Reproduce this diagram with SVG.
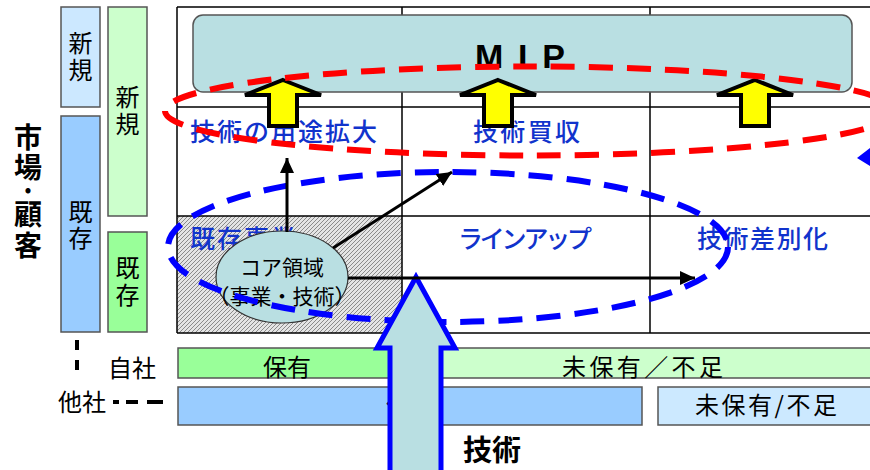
<svg xmlns="http://www.w3.org/2000/svg" width="870" height="470" viewBox="0 0 870 470">
<style>
.jp{font-family:"Noto Sans CJK JP","Noto Sans",sans-serif;}
.lbl{font-size:24px;fill:#000;}
.blue{font-size:25px;fill:#1133cc;font-weight:500;}
.bar{stroke:#555;stroke-width:1.5;}
.grid{stroke:#000;stroke-width:1.5;fill:none;}
.yarrow{fill:#ffff00;stroke:#000;stroke-width:4;stroke-linejoin:miter;}
.blk{stroke:#000;stroke-width:3;fill:none;marker-end:url(#ah);}
</style>
<defs>
<pattern id="hatch" width="4" height="4" patternUnits="userSpaceOnUse">
<rect width="4" height="4" fill="#e4e4e4"/>
<path d="M-1,1 L1,-1 M0,4 L4,0 M3,5 L5,3" stroke="#8a8a8a" stroke-width="1"/>
</pattern>
<marker id="ah" markerUnits="userSpaceOnUse" markerWidth="16" markerHeight="14" refX="15" refY="7" orient="auto">
<path d="M0,0 L15,7 L0,14 z" fill="#000"/>
</marker>
</defs>
<rect width="870" height="470" fill="#fff"/>

<!-- left axis -->
<g id="axis-market">
<text class="jp" font-weight="bold" font-size="28" text-anchor="middle" fill="#000">
<tspan x="28" y="148">市</tspan><tspan x="28" y="178">場</tspan><tspan x="28" y="201">·</tspan><tspan x="28" y="225">顧</tspan><tspan x="28" y="256">客</tspan>
</text>
</g>
<g id="col1-new"><rect class="bar" x="61" y="7" width="39" height="100" fill="#cce8ff"/>
<text class="jp lbl" text-anchor="middle"><tspan x="80.5" y="52">新</tspan><tspan x="80.5" y="79">規</tspan></text></g>
<g id="col1-exist"><rect class="bar" x="61" y="116" width="39" height="216" fill="#99ccff"/>
<text class="jp lbl" text-anchor="middle"><tspan x="80.5" y="221">既</tspan><tspan x="80.5" y="247">存</tspan></text></g>
<g id="col2-new"><rect class="bar" x="108" y="7" width="39" height="209" fill="#ccffcc"/>
<text class="jp lbl" text-anchor="middle"><tspan x="127.5" y="106">新</tspan><tspan x="127.5" y="133">規</tspan></text></g>
<g id="col2-exist"><rect class="bar" x="108" y="232" width="39" height="100" fill="#99ff99"/>
<text class="jp lbl" text-anchor="middle"><tspan x="127.5" y="277">既</tspan><tspan x="127.5" y="304">存</tspan></text></g>

<!-- grid -->
<g id="grid">
<rect x="177" y="216" width="225" height="117" fill="url(#hatch)"/>
<path class="grid" d="M177,7 H870 M177,107 H870 M177,216 H870 M177,333 H870 M177,7 V333 M402,7 V333 M650,7 V333"/>
</g>

<g id="mip">
<rect x="193" y="15" width="659" height="77" rx="10" fill="#b9dfe2" stroke="#555" stroke-width="1.5"/>
<text x="475" y="68" font-family="Liberation Sans,Arial,sans-serif" font-weight="bold" font-size="34" textLength="90" fill="#000">M I P</text>
</g>

<g id="cell-labels">
<text class="jp blue" x="190" y="141" textLength="187">技術の用途拡大</text>
<text class="jp blue" x="473" y="141" textLength="107">技術買収</text>
<text class="jp blue" x="190" y="248" textLength="106">既存事業</text>
<text class="jp blue" x="458" y="248" textLength="134">ラインアップ</text>
<text class="jp blue" x="697" y="248" textLength="131">技術差別化</text>
</g>

<g id="yellow-arrows">
<path class="yarrow" d="M283,80 L321,95 L297,95 L297,126 L269,126 L269,95 L245,95 Z"/>
<path class="yarrow" d="M498,80 L536,95 L512,95 L512,126 L484,126 L484,95 L460,95 Z"/>
<path class="yarrow" d="M755,80 L793,95 L769,95 L769,126 L741,126 L741,95 L717,95 Z"/>
</g>

<g id="red-ellipse">
<ellipse cx="530" cy="111" rx="365" ry="44.5" fill="none" stroke="#ff0000" stroke-width="6" stroke-dasharray="24 14"/>
</g>

<g id="core">
<ellipse cx="282" cy="277" rx="66" ry="46" fill="#b9dfe2" stroke="#333" stroke-width="1.2"/>
<text class="jp" font-size="21" text-anchor="middle" x="282" y="275" fill="#000">コア領域</text>
<text class="jp" font-size="21" text-anchor="middle" x="282" y="304" fill="#000">（事業・技術）</text>
</g>

<g id="blue-ellipse">
<ellipse cx="448" cy="247" rx="280" ry="75" fill="none" stroke="#0000ff" stroke-width="6" stroke-dasharray="24 14"/>
<path d="M857,158 L870,148 L870,166 Z" fill="#0000ff"/>
</g>

<!-- bottom bars -->
<g id="own">
<rect class="bar" x="178" y="348" width="250" height="30" fill="#99ff99"/>
<rect class="bar" x="428" y="348" width="450" height="30" fill="#ccffcc"/>
<text class="jp lbl" x="287" y="376" text-anchor="middle">保有</text>
<text class="jp lbl" x="562" y="376" textLength="161">未保有／不足</text>
</g>
<g id="other">
<rect class="bar" x="178" y="387" width="464" height="38" fill="#99ccff"/>
<text class="jp lbl" x="410" y="414" text-anchor="middle">保有</text>
<rect class="bar" x="658" y="387" width="220" height="38" fill="#cce9ff"/>
<text class="jp lbl" x="695" y="414" textLength="142">未保有/不足</text>
</g>
<g id="legend">
<text class="jp lbl" x="132" y="377" text-anchor="middle">自社</text>
<text class="jp lbl" x="82" y="411" text-anchor="middle">他社</text>
<line x1="77" y1="340" x2="77" y2="373" stroke="#000" stroke-width="4" stroke-dasharray="10 10"/>
<line x1="113" y1="402" x2="163" y2="402" stroke="#000" stroke-width="4" stroke-dasharray="6 7 12 9 13 0"/>
</g>

<g id="tech-arrow">
<path d="M416,277 L455,348 L441,348 L441,480 L390,480 L390,348 L377,348 Z" fill="#b9dfe2" stroke="#0000ff" stroke-width="5" stroke-linejoin="miter"/>
<text class="jp" x="492" y="461" text-anchor="middle" font-size="29" font-weight="bold" fill="#000">技術</text>
</g>

<g id="connectors">
<line class="blk" x1="287" y1="232" x2="287" y2="158"/>
<line class="blk" x1="333" y1="248" x2="452" y2="172"/>
<line class="blk" x1="348" y1="278" x2="695" y2="278"/>
</g>
</svg>
